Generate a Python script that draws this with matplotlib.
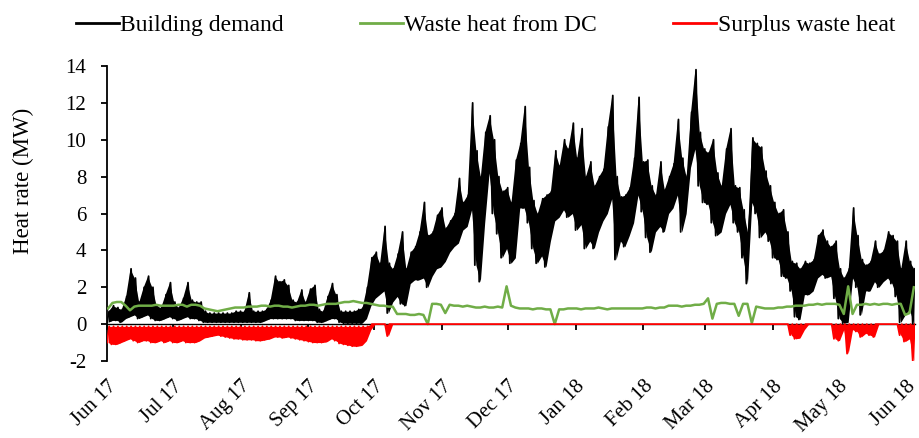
import numpy as np
import pandas as pd
import matplotlib
matplotlib.use("Agg")
import matplotlib.pyplot as plt
import matplotlib.dates as mdates
from matplotlib.lines import Line2D

# Two-day sampling from 1 June 2017; each sample holds the trough and the peak of that period (MW)
start_date = "2017-06-01"
n_samples = 185

demand_low = [
    0.1, 0.2, 0.2, 0.1, 0.3, 0.4, 0.5, 0.3, 0.4, 0.5,
    0.3, 0.2, 0.2, 0.3, 0.4, 0.3, 0.2, 0.3, 0.4, 0.3,
    0.3, 0.2, 0.1, 0.1, 0.1, 0.1, 0.1, 0.1, 0.1, 0.1,
    0.1, 0.1, 0.1, 0.1, 0.1, 0.1, 0.2, 0.3, 0.3, 0.3,
    0.3, 0.3, 0.3, 0.2, 0.2, 0.2, 0.2, 0.2, 0.1, 0.1,
    0.2, 0.3, 0.3, 0.1, 0.05, 0.05, 0.05, 0.05, 0.05, 0.3,
    1.0, 1.4, 1.6, 1.8, 0.6, 1.2, 1.5, 1.1, 1.0, 2.2,
    2.4, 2.4, 2.5, 2.0, 2.6, 3.0, 3.1, 3.4, 3.9, 4.2,
    4.4, 5.1, 5.3, 6.2, 3.2, 2.3, 5.5, 8.2, 6.0, 4.9,
    3.6, 4.1, 3.3, 3.6, 6.3, 6.3, 5.5, 4.1, 3.3, 3.7,
    3.1, 4.5, 5.6, 5.8, 6.2, 5.8, 6.0, 5.1, 5.4, 4.1,
    4.5, 4.1, 5.0, 5.6, 6.0, 6.8, 3.5, 4.5, 4.2, 4.8,
    5.5, 7.0, 6.1, 4.7, 3.9, 5.0, 5.3, 5.0, 6.0, 6.3,
    7.0, 5.0, 6.0, 8.5, 9.5, 7.5, 6.6, 6.5, 5.5, 4.8,
    5.0, 6.0, 6.5, 5.5, 5.0, 3.6, 2.2, 6.6, 6.0, 4.7,
    5.0, 4.5, 3.6, 3.5, 2.6, 2.5, 1.8, 0.4, 0.25, 1.6,
    1.6, 1.8, 2.5, 2.7, 2.5, 2.6, 1.4, 0.3, 0.05, 0.1,
    2.5, 2.0, 0.5, 1.8, 1.8, 2.3, 2.0, 2.3, 2.5, 2.2,
    1.5, 0.1, 0.5, 0.8, 0.0,
]

demand_high = [
    0.7, 1.0, 0.9, 0.8, 1.5, 3.0, 2.5, 1.2, 2.0, 2.6,
    2.0, 1.0, 0.9, 1.6, 2.25, 1.2, 0.9, 1.4, 2.25, 1.3,
    1.2, 1.2, 0.7, 0.6, 0.6, 0.6, 0.6, 0.6, 0.6, 0.7,
    0.7, 0.7, 1.7, 0.7, 0.7, 0.7, 0.8, 1.3, 2.6, 2.3,
    2.4, 2.1, 1.3, 1.2, 1.85, 1.2, 1.9, 2.1, 0.8, 0.7,
    1.5, 2.2, 1.6, 0.7, 0.7, 0.7, 0.7, 0.8, 0.9, 2.0,
    3.6, 3.9, 3.3, 5.3, 3.3, 3.0, 3.8, 5.0, 3.0, 3.9,
    4.2, 5.0, 6.6, 4.8, 5.0, 5.9, 6.3, 5.2, 5.6, 6.0,
    7.9, 6.6, 7.0, 12.0, 9.4, 8.0, 10.4, 11.3, 10.0, 8.0,
    7.2, 7.4, 6.6, 8.9, 9.8, 11.8, 8.5, 6.7, 6.0, 6.8,
    7.0, 7.2, 9.4, 8.6, 10.0, 9.5, 10.9, 9.0, 10.6, 8.0,
    8.8, 7.5, 8.0, 8.4, 10.7, 12.4, 8.0, 6.9, 7.0, 7.4,
    9.0, 12.3, 8.8, 8.9, 7.5, 7.0, 8.8, 7.3, 8.0, 8.7,
    11.1, 9.0, 8.0, 11.5, 13.8, 10.4, 9.5, 9.3, 10.0, 8.2,
    7.5, 9.5, 10.6, 7.5, 7.4, 6.2, 5.0, 10.1, 9.8, 9.6,
    8.3, 7.5, 6.6, 6.0, 6.2, 5.0, 3.4, 3.3, 3.0, 3.4,
    3.3, 3.5, 4.8, 5.1, 4.5, 4.2, 4.5, 3.0, 2.5, 3.0,
    6.3, 4.8, 3.5, 3.2, 3.4, 4.5, 3.8, 4.0, 5.0, 4.8,
    4.5, 3.0, 4.5, 3.4, 3.0,
]

waste_heat = [
    0.85, 1.15, 1.2, 1.2, 1.0, 0.75, 0.95, 1.0, 1.0, 1.0,
    1.0, 1.05, 1.0, 1.0, 1.0, 1.0, 1.05, 1.05, 0.95, 1.05,
    1.05, 1.0, 0.85, 0.8, 0.75, 0.7, 0.75, 0.8, 0.85, 0.9,
    0.9, 0.9, 0.95, 0.95, 0.95, 1.0, 1.0, 0.95, 1.0, 1.0,
    0.95, 0.95, 0.9, 0.95, 1.0, 1.0, 1.05, 1.05, 1.0, 1.05,
    1.1, 1.1, 1.1, 1.15, 1.2, 1.2, 1.25, 1.2, 1.15, 1.15,
    1.1, 1.05, 1.0, 1.0, 0.95, 0.95, 0.55, 0.55, 0.55, 0.5,
    0.5, 0.55, 0.5, 0.0, 1.1, 1.1, 1.05, 0.6, 1.05, 1.0,
    1.0, 0.95, 1.0, 0.95, 0.9, 0.9, 0.95, 0.9, 0.9, 0.95,
    0.9, 2.05, 1.0, 0.9, 0.85, 0.85, 0.85, 0.8, 0.85, 0.85,
    0.8, 0.8, 0.0, 0.8, 0.8, 0.85, 0.85, 0.85, 0.8, 0.85,
    0.85, 0.85, 0.9, 0.85, 0.8, 0.85, 0.85, 0.85, 0.85, 0.85,
    0.85, 0.85, 0.85, 0.9, 0.9, 0.85, 0.9, 0.9, 1.0, 1.0,
    1.0, 0.95, 1.0, 1.0, 1.05, 1.05, 1.1, 1.4, 0.3, 1.1,
    1.15, 1.15, 1.1, 1.1, 0.45, 1.1, 1.1, 0.05, 0.95, 0.9,
    0.85, 0.85, 0.85, 0.9, 0.9, 0.95, 0.95, 1.0, 1.0, 1.0,
    1.05, 1.05, 1.1, 1.05, 1.1, 1.1, 1.1, 1.05, 0.55, 2.05,
    0.55, 1.05, 1.05, 1.1, 1.05, 1.1, 1.05, 1.1, 1.1, 1.05,
    1.1, 1.1, 0.5, 0.6, 2.0,
]

surplus_low = [
    -1.0, -1.1, -1.1, -1.0, -0.9, -0.8, -0.9, -1.0, -0.9, -0.9,
    -1.0, -1.0, -0.9, -1.0, -0.9, -1.0, -1.0, -0.9, -1.0, -1.0,
    -1.0, -0.9, -0.75, -0.7, -0.65, -0.6, -0.65, -0.7, -0.75, -0.8,
    -0.8, -0.85, -0.85, -0.85, -0.9, -0.9, -0.85, -0.8, -0.7, -0.7,
    -0.75, -0.7, -0.75, -0.8, -0.85, -0.9, -0.95, -1.0, -1.0, -1.0,
    -0.95, -0.8, -0.9, -1.05, -1.1, -1.15, -1.2, -1.2, -1.15, -0.9,
    -0.3, 0.0, 0.0, 0.0, -0.65, 0.0, 0.0, 0.0, 0.0, 0.0,
    0.0, 0.0, 0.0, 0.0, 0.0, 0.0, 0.0, 0.0, 0.0, 0.0,
    0.0, 0.0, 0.0, 0.0, 0.0, 0.0, 0.0, 0.0, 0.0, 0.0,
    0.0, 0.0, 0.0, 0.0, 0.0, 0.0, 0.0, 0.0, 0.0, 0.0,
    0.0, 0.0, 0.0, 0.0, 0.0, 0.0, 0.0, 0.0, 0.0, 0.0,
    0.0, 0.0, 0.0, 0.0, 0.0, 0.0, 0.0, 0.0, 0.0, 0.0,
    0.0, 0.0, 0.0, 0.0, 0.0, 0.0, 0.0, 0.0, 0.0, 0.0,
    0.0, 0.0, 0.0, 0.0, 0.0, 0.0, 0.0, 0.0, 0.0, 0.0,
    0.0, 0.0, 0.0, 0.0, 0.0, 0.0, 0.0, 0.0, 0.0, 0.0,
    0.0, 0.0, 0.0, 0.0, 0.0, 0.0, -0.6, -0.8, -0.75, -0.3,
    0.0, 0.0, 0.0, 0.0, 0.0, 0.0, -0.8, -0.9, -0.3, -1.6,
    -0.3, -0.4, -0.7, -0.5, -0.6, -0.7, 0.0, 0.0, 0.0, 0.0,
    0.0, -0.6, -0.95, -0.8, -2.0,
]

surplus_high = [-0.12] * 60 + [0.0] * 125

month_ticks = pd.date_range("2017-06-01", "2018-06-01", freq="MS")
x_limits = (pd.Timestamp("2017-06-01"), pd.Timestamp("2018-06-05"))
y_ticks = [-2, 0, 2, 4, 6, 8, 10, 12, 14]

series_names = ["Building demand", "Waste heat from DC", "Surplus waste heat"]
series_colors = ["#000000", "#70AD47", "#FF0000"]

plt.rcParams["font.family"] = ["Liberation Serif", "DejaVu Serif"]
plt.rcParams["font.size"] = 15
plt.rcParams["axes.unicode_minus"] = False

dates = pd.date_range(start_date, periods=n_samples, freq="2D")
mid_dates = dates + pd.Timedelta(hours=12)


def envelope(low, high):
    """Alternate trough and peak readings so the series reads as a dense trace."""
    t = np.empty(2 * len(dates), dtype="datetime64[ns]")
    t[0::2] = dates.values
    t[1::2] = (dates + pd.Timedelta(days=1)).values
    v = np.empty(2 * len(dates))
    v[0::2] = low
    v[1::2] = high
    return t, v


fig = plt.figure(figsize=(9.19, 4.38), dpi=100)
ax = fig.add_axes([0.1164, 0.1758, 0.8792, 0.6735])

# Building demand: solid band between troughs and peaks, with the trace on top
ax.fill_between(mid_dates, demand_low, demand_high, color=series_colors[0], lw=0, zorder=3)
t_d, v_d = envelope(demand_low, demand_high)
ax.plot(t_d, v_d, color=series_colors[0], lw=1.3, zorder=3)

ax.plot(mid_dates, waste_heat, color=series_colors[1], lw=1.8, zorder=4)

ax.fill_between(mid_dates, surplus_low, surplus_high, color=series_colors[2], lw=0, zorder=5)
t_s, v_s = envelope(surplus_low, surplus_high)
ax.plot(t_s, v_s, color=series_colors[2], lw=1.3, zorder=5)

ax.set_xlim(*x_limits)
ax.set_ylim(-2, 14)
ax.set_yticks(y_ticks)
ax.set_xticks(month_ticks)
ax.xaxis.set_major_formatter(mdates.DateFormatter("%b %y"))

for side in ("top", "right"):
    ax.spines[side].set_visible(False)
ax.spines["left"].set_linewidth(1.3)
ax.spines["bottom"].set_position(("data", 0))
ax.spines["bottom"].set_linewidth(1.0)
ax.spines["bottom"].set_zorder(2)

ax.tick_params(axis="y", direction="out", length=4, width=1.3, pad=11)
ax.tick_params(axis="x", direction="out", length=4, width=1.3, pad=34)
plt.setp(ax.get_xticklabels(), rotation=45, ha="right", va="top", rotation_mode="anchor")

ax.set_ylabel("Heat rate (MW)", fontsize=16.5)
ax.yaxis.set_label_coords(-0.09, 0.61)

handles = [Line2D([], [], color=c, lw=2) for c in series_colors]
fig.legend(handles, series_names, loc="upper center", bbox_to_anchor=(0.528, 1.015),
           ncol=3, frameon=False, handlelength=1.85, handletextpad=0.05,
           columnspacing=3.2, fontsize=17)

fig.savefig("out.png", dpi=100)
